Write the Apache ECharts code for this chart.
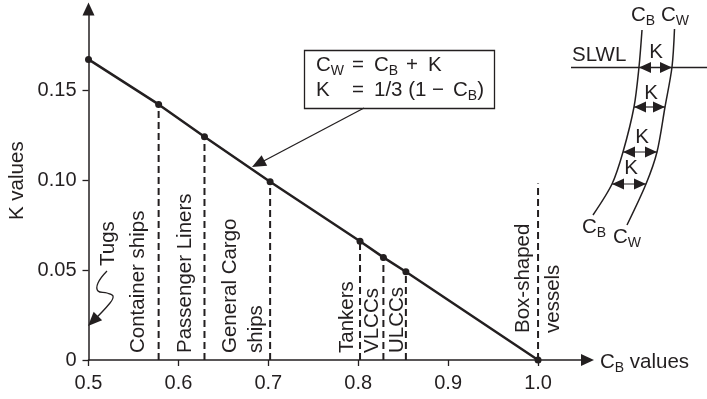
<!DOCTYPE html>
<html>
<head>
<meta charset="utf-8">
<style>html,body{margin:0;padding:0;background:#fff}#chart{width:707px;height:399px}</style>
<script src="https://cdn.jsdelivr.net/npm/echarts@6/dist/echarts.min.js"></script>
</head>
<body>
<div id="chart"></div>
<script>
// ── DATA ───────────────────────────────────────────
const cbValues = [0.5, 0.578, 0.629, 0.702, 0.802, 0.828, 0.853, 1.0];
const kValues = [0.167, 0.142, 0.124, 0.099, 0.066, 0.057, 0.049, 0];
const dropCb = [0.578, 0.629, 0.702, 0.802, 0.828, 0.853, 1.0];
const dropTop = [0.142, 0.124, 0.099, 0.066, 0.057, 0.049, 0.098];
const xTicks = [0.5, 0.6, 0.7, 0.8, 0.9, 1.0];
const yTicks = [0, 0.05, 0.1, 0.15];

const INK = '#231f20';
const FONT = '"Liberation Sans", Arial, sans-serif';
const FS = 20.5;

// ── DRAW HELPERS ───────────────────────────────────
const richStyle = {
  m: { fontSize: FS, fontFamily: FONT, fill: INK, lineHeight: 26 },
  s: { fontSize: 14, fontFamily: FONT, fill: INK, lineHeight: 26, verticalAlign: 'bottom', padding: [7, 0, 0, 0] },
};

function text(x, y, str, align = 'left') {
  return {
    type: 'text', x, y, silent: true,
    style: { text: str, fontSize: FS, fontFamily: FONT, fill: INK, align, verticalAlign: 'middle', rich: richStyle },
  };
}

function vtext(x, y, str) {
  return {
    type: 'text', x, y, rotation: Math.PI / 2, silent: true,
    style: { text: str, fontSize: FS, fontFamily: FONT, fill: INK, align: 'left', verticalAlign: 'middle' },
  };
}

function line(points, smooth = 0, lw = 1.5) {
  return {
    type: 'polyline', silent: true,
    shape: { points, smooth },
    style: { stroke: INK, lineWidth: lw, fill: null },
  };
}

function head(tip, from, len = 13, half = 5.5) {
  const a = Math.atan2(tip[1] - from[1], tip[0] - from[0]);
  const bx = tip[0] - len * Math.cos(a), by = tip[1] - len * Math.sin(a);
  const nx = -Math.sin(a) * half, ny = Math.cos(a) * half;
  return {
    type: 'polygon', silent: true,
    shape: { points: [tip, [bx + nx, by + ny], [bx - nx, by - ny]] },
    style: { fill: INK },
  };
}

function dbl(x1, x2, y) {
  return [
    line([[x1, y], [x2, y]], 0, 1.2),
    head([x1, y], [x2, y], 12, 5.5),
    head([x2, y], [x1, y], 12, 5.5),
  ];
}

const annotations = [
  // axis names
  vtext(17, 220, 'K values'),
  text(600, 362, '{m|C}{s|B}{m| values}'),

  // ship type labels
  vtext(138, 353, 'Container ships'),
  vtext(185, 353, 'Passenger Liners'),
  vtext(230, 353, 'General Cargo'),
  vtext(256, 353, 'ships'),
  vtext(347, 353, 'Tankers'),
  vtext(372, 353, 'VLCCs'),
  vtext(397, 353, 'ULCCs'),
  vtext(523, 333, 'Box-shaped'),
  vtext(553, 333, 'vessels'),
  vtext(108, 266, 'Tugs'),

  // tugs squiggle
  line([[107, 271], [98, 283], [98, 291], [107, 293], [113, 296], [110, 303], [92, 322]], 0.4, 1.3),
  head([88, 326], [106, 308], 14, 6),

  // formula box
  {
    type: 'rect', silent: true,
    shape: { x: 304.5, y: 50.5, width: 190, height: 58 },
    style: { stroke: INK, lineWidth: 1.3, fill: '#fff' },
  },
  text(316, 65.5, '{m|C}{s|W}'),
  text(352, 65.5, '='),
  text(374, 65.5, '{m|C}{s|B}'),
  text(406, 65.5, '+'),
  text(428, 65.5, 'K'),
  text(316, 90.5, 'K'),
  text(352, 90.5, '='),
  text(374, 90.5, '1/3 (1'),
  text(432, 90.5, '−'),
  text(453, 90.5, '{m|C}{s|B}{m|)}'),
  line([[364, 108], [258, 164]], 0, 1.3),
  head([252, 167], [364, 108], 14, 6),

  // hull section inset
  line([[642, 30], [639, 67], [634, 107], [623, 152], [612, 184], [593, 215]], 0.3),
  line([[674.5, 29], [672, 67], [665, 107], [657, 152], [646, 184], [627, 225]], 0.3),
  line([[571, 67.5], [707, 67.5]], 0, 1.3),
  text(572, 55, 'SLWL'),
  ...dbl(639, 672, 67.5),
  ...dbl(634, 665, 107),
  ...dbl(623, 657, 152),
  ...dbl(612, 646, 184),
  text(656, 52, 'K', 'center'),
  text(651, 93, 'K', 'center'),
  text(642, 137, 'K', 'center'),
  text(631, 168, 'K', 'center'),
  text(631, 15, '{m|C}{s|B}'),
  text(661, 15, '{m|C}{s|W}'),
  text(582, 227, '{m|C}{s|B}'),
  text(613, 237, '{m|C}{s|W}'),
];

// ── CHART ──────────────────────────────────────────
const chart = echarts.init(document.getElementById('chart'), null, { renderer: 'canvas' });

const axisText = { color: INK, fontSize: FS - 0.5, fontFamily: FONT };
const axisLine = { show: true, lineStyle: { color: INK, width: 1.5 }, symbol: ['none', 'triangle'], symbolSize: [12, 13] };

chart.setOption({
  animation: false,
  backgroundColor: '#fff',
  grid: { left: 88.5, right: 119.5, top: 9, bottom: 39, containLabel: false },
  xAxis: {
    type: 'value', min: 0.5, max: 1.055,
    splitLine: { show: false },
    axisLine,
    axisTick: { show: true, length: 6, customValues: xTicks, lineStyle: { color: INK, width: 1.3 } },
    axisLabel: { ...axisText, margin: 13, customValues: xTicks, formatter: v => v.toFixed(1) },
  },
  yAxis: {
    type: 'value', min: 0, max: 0.195,
    splitLine: { show: false },
    axisLine,
    axisTick: { show: true, length: 6, customValues: yTicks, lineStyle: { color: INK, width: 1.3 } },
    axisLabel: { ...axisText, margin: 12, customValues: yTicks, formatter: v => (v === 0 ? '0' : v.toFixed(2)) },
  },
  series: [
    ...dropCb.map((cb, i) => ({
      type: 'line', silent: true, symbol: 'none', clip: false,
      data: [[cb, 0], [cb, dropTop[i]]],
      lineStyle: { color: INK, width: 2, type: [7, 4] },
    })),
    {
      type: 'line', silent: true, clip: false,
      data: cbValues.map((c, i) => [c, kValues[i]]),
      symbol: 'circle', symbolSize: 7,
      itemStyle: { color: INK },
      lineStyle: { color: INK, width: 2.5 },
    },
  ],
  graphic: annotations,
});
</script>
</body>
</html>
